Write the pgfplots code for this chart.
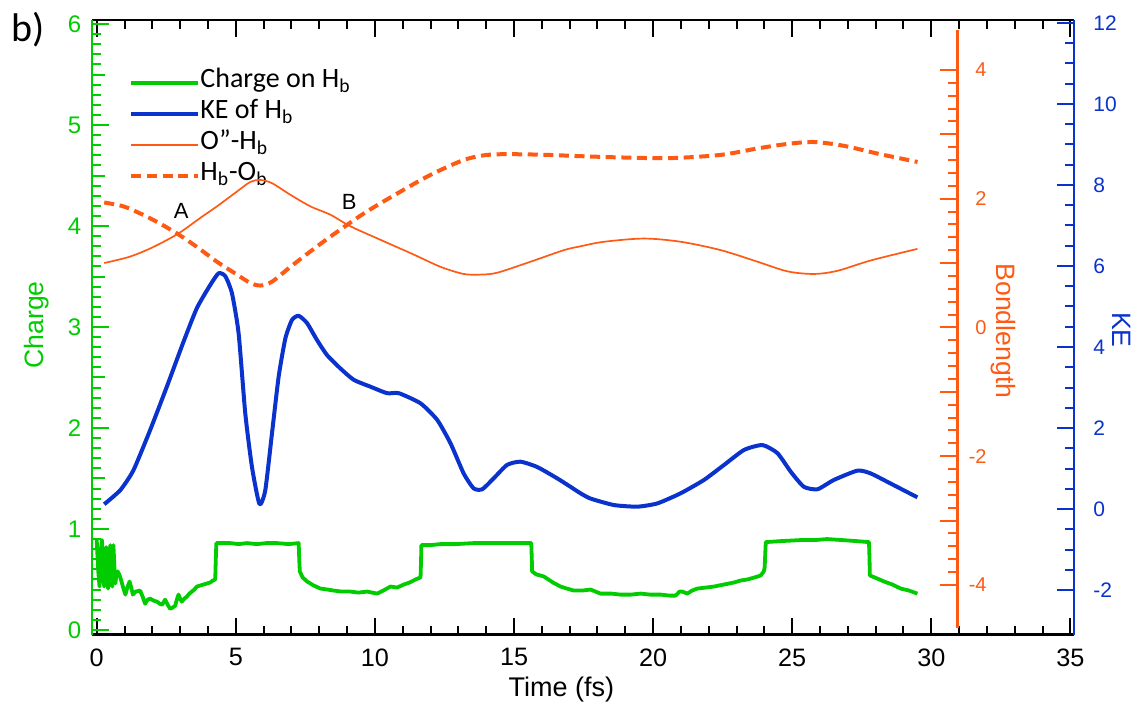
\documentclass[border=0pt]{standalone}
\usepackage{fontspec}
\setmainfont{Liberation Sans}
\newfontfamily\leg{Carlito}
\usepackage{pgfplots}
\pgfplotsset{compat=1.18}
\definecolor{cgreen}{RGB}{0,204,0}
\definecolor{cblue}{RGB}{10,50,205}
\definecolor{corange}{RGB}{255,90,20}

\begin{document}
\begin{tikzpicture}
\useasboundingbox (-46pt,-37.15pt) rectangle (524.5pt,317.35pt);
% ---------------- Charge axis (left) with x axis ----------------
\begin{axis}[
  at={(0pt,0pt)}, anchor=south west,
  scale only axis, width=491pt, height=307.35pt,
  xmin=-0.17, xmax=35.13, ymin=-0.047, ymax=6.04,
  clip mode=individual,
  axis x line*=box, axis y line*=left,
  x axis line style={black, line width=1.25pt, -},
  y axis line style={cgreen, line width=1.25pt, -},
  xtick={0,5,...,35}, minor x tick num=4,
  xtick pos=both, xticklabel pos=left,
  ytick={0,1,...,6}, minor y tick num=9, ytick pos=left,
  tick align=inside,
  major tick length=8.5pt, minor tick length=4.5pt,
  x tick style={black, line width=1pt},
  y tick style={cgreen, line width=1pt},
  extra y ticks={0.5,1.5,2.5,3.5,4.5,5.5}, extra y tick labels={},
  extra y tick style={major tick length=6.5pt},
  /pgf/number format/assume math mode=true,
  xticklabel style={font=\fontsize{12.6}{14}\selectfont, anchor=north, inner sep=0pt, yshift=-6.65pt},
  yticklabel style={font=\fontsize{12}{14}\selectfont, text=cgreen, anchor=east, inner sep=0pt, xshift=-5.25pt},
  xlabel={Time (fs)},
  xlabel style={at={(rel axis cs:0.478,-0.089)}, anchor=center, font=\fontsize{13.5}{15}\selectfont},
  ylabel={Charge},
  ylabel style={at={(rel axis cs:-0.056,0.504)}, anchor=center, text=cgreen, font=\fontsize{13.3}{15}\selectfont},
  legend cell align=left,
  legend image code/.code={\draw[#1] (0pt,0pt) -- (25pt,0pt); \path (0pt,0pt) -- (33.5pt,0pt);},
  legend style={at={(rel axis cs:0.0377,0.923)}, anchor=north west, draw=none, fill=none,
    inner sep=0pt, row sep=0pt, font=\leg\fontsize{14}{16}\selectfont,
    nodes={inner sep=0pt, text height=10pt, text depth=5.5pt}},
]
\addplot[cgreen, line width=1.9pt, line join=round] table {
0.00 0.89
0.05 0.60
0.10 0.43
0.15 0.80
0.19 0.89
0.23 0.55
0.27 0.43
0.31 0.75
0.34 0.82
0.38 0.50
0.41 0.41
0.45 0.70
0.49 0.84
0.53 0.55
0.56 0.43
0.58 0.70
0.60 0.84
0.64 0.60
0.67 0.46
0.71 0.55
0.75 0.58
0.81 0.55
0.87 0.50
0.95 0.42
1.03 0.35
1.10 0.42
1.18 0.48
1.24 0.42
1.30 0.35
1.40 0.38
1.56 0.39
1.65 0.33
1.74 0.26
1.83 0.30
1.92 0.31
2.05 0.29
2.17 0.28
2.26 0.26
2.35 0.25
2.46 0.30
2.55 0.25
2.64 0.21
2.72 0.22
2.82 0.24
2.88 0.30
2.94 0.35
3.00 0.31
3.06 0.28
3.15 0.31
3.24 0.33
3.33 0.36
3.42 0.38
3.51 0.40
3.60 0.43
3.72 0.44
3.84 0.45
3.96 0.46
4.08 0.47
4.18 0.49
4.26 0.50
4.28 0.70
4.30 0.86
4.50 0.86
4.80 0.86
5.10 0.85
5.40 0.86
5.76 0.85
6.10 0.86
6.48 0.86
6.90 0.85
7.26 0.86
7.28 0.70
7.30 0.58
7.40 0.52
7.56 0.48
7.80 0.44
8.04 0.41
8.30 0.40
8.52 0.39
8.80 0.38
9.12 0.38
9.40 0.37
9.72 0.38
9.90 0.37
10.08 0.36
10.30 0.39
10.56 0.43
10.80 0.42
11.04 0.45
11.25 0.47
11.46 0.50
11.64 0.52
11.66 0.70
11.67 0.84
12.00 0.84
12.35 0.85
12.90 0.85
13.55 0.86
14.20 0.86
14.75 0.86
15.20 0.86
15.62 0.86
15.64 0.70
15.65 0.58
15.80 0.55
16.07 0.53
16.40 0.47
16.67 0.43
16.90 0.41
17.15 0.39
17.45 0.39
17.75 0.40
18.11 0.36
18.50 0.36
18.83 0.35
19.20 0.35
19.55 0.36
19.90 0.35
20.27 0.35
20.60 0.34
20.81 0.34
20.95 0.38
21.05 0.38
21.23 0.36
21.40 0.39
21.59 0.41
21.90 0.42
22.19 0.43
22.55 0.45
22.91 0.47
23.15 0.49
23.39 0.50
23.65 0.52
23.87 0.54
23.98 0.58
24.01 0.62
24.05 0.87
24.60 0.88
25.31 0.89
25.80 0.89
26.26 0.90
26.80 0.89
27.30 0.88
27.76 0.87
27.78 0.70
27.79 0.54
28.05 0.51
28.30 0.48
28.60 0.45
28.90 0.41
29.20 0.39
29.50 0.36
};
\addlegendentry{Charge on H\textsubscript{b}}
\addlegendimage{cblue, line width=2pt}
\addlegendentry{KE of H\textsubscript{b}}
\addlegendimage{corange, line width=0.85pt}
\addlegendentry{O”-H\textsubscript{b}}
\addlegendimage{corange, line width=2pt, dash pattern=on 5pt off 2.8pt}
\addlegendentry{H\textsubscript{b}-O\textsubscript{b}}
\node[font=\fontsize{11}{13}\selectfont] at (axis cs:3.04,4.15) {A};
\node[font=\fontsize{11}{13}\selectfont] at (axis cs:9.08,4.24) {B};
\node[font=\leg\fontsize{20}{22}\selectfont] at (rel axis cs:-0.0650,0.985) {b)};
\end{axis}
% ---------------- KE axis (right) ----------------
\begin{axis}[
  at={(0pt,0pt)}, anchor=south west,
  scale only axis, width=491pt, height=307.35pt,
  xmin=-0.17, xmax=35.13, ymin=-3.10, ymax=12.07,
  axis x line=none, axis y line*=right,
  y axis line style={cblue, line width=1.25pt, -},
  ytick={-2,0,...,12}, minor y tick num=3,
  ytick pos=right, yticklabel pos=right,
  tick align=inside, major tick length=8.5pt, minor tick length=4.5pt,
  y tick style={cblue, line width=1pt},
  /pgf/number format/assume math mode=true,
  yticklabel style={text=cblue, font=\fontsize{10.5}{12}\selectfont, anchor=west, inner sep=0pt, xshift=9.5pt},
  ylabel={KE},
  ylabel style={at={(rel axis cs:1.0489,0.4957)}, anchor=center, rotate=180, text=cblue, font=\fontsize{13.3}{15}\selectfont},
]
\addplot[cblue, line width=2pt, line join=round, smooth, tension=0.35] table {
0.27 0.12
0.85 0.47
1.32 0.96
1.92 1.95
2.52 3.02
3.12 4.13
3.60 4.96
4.08 5.53
4.38 5.82
4.62 5.75
4.86 5.33
5.10 4.34
5.34 2.36
5.58 1.04
5.85 0.12
6.06 0.47
6.30 1.87
6.54 3.27
6.78 4.21
7.02 4.67
7.26 4.77
7.56 4.59
7.92 4.17
8.28 3.80
8.76 3.47
9.24 3.19
9.84 3.02
10.44 2.86
10.86 2.86
11.64 2.61
12.24 2.20
12.72 1.62
13.19 0.88
13.55 0.51
13.86 0.49
14.27 0.76
14.75 1.09
15.23 1.17
15.83 1.04
16.55 0.76
17.03 0.55
17.39 0.39
17.75 0.26
18.59 0.10
19.43 0.06
20.15 0.14
20.99 0.39
21.83 0.72
22.55 1.09
23.27 1.46
23.93 1.58
24.47 1.38
24.95 0.92
25.42 0.55
25.91 0.49
26.50 0.72
27.35 0.95
27.82 0.88
28.54 0.63
29.50 0.29
};
\end{axis}
% ---------------- Bondlength data (hidden axis, same x scale) ----------------
\begin{axis}[
  at={(0pt,3.35pt)}, anchor=south west,
  scale only axis, width=432.65pt, height=299pt,
  xmin=-0.17, xmax=30.93, ymin=-4.67, ymax=4.62,
  clip mode=individual,
  axis lines=none, xtick=\empty, ytick=\empty,
]
\addplot[corange, line width=0.85pt, line join=round, smooth] table {
0.27 1.00
1.20 1.10
2.04 1.25
2.94 1.46
3.72 1.70
4.32 1.88
5.04 2.11
5.52 2.26
5.88 2.29
6.30 2.24
6.96 2.06
7.68 1.88
8.40 1.75
9.12 1.57
10.20 1.36
11.40 1.13
12.36 0.94
13.19 0.83
13.80 0.82
14.40 0.85
15.59 1.02
16.79 1.20
17.39 1.26
18.23 1.33
19.67 1.38
20.99 1.33
22.43 1.20
23.75 1.02
24.83 0.87
25.78 0.83
26.63 0.88
27.82 1.04
29.50 1.22
};
\addplot[corange, line width=2pt, dash pattern=on 5pt off 2.8pt, smooth] table {
0.27 1.94
0.96 1.88
1.56 1.77
2.16 1.64
2.88 1.46
3.60 1.25
4.32 1.02
5.04 0.82
5.52 0.69
5.88 0.65
6.30 0.71
6.96 0.94
7.68 1.18
8.40 1.41
9.60 1.77
10.80 2.08
12.00 2.37
13.19 2.60
14.04 2.68
15.00 2.69
16.19 2.68
17.39 2.66
18.83 2.64
20.63 2.63
22.43 2.68
23.75 2.78
24.83 2.85
25.78 2.88
26.86 2.82
28.06 2.70
29.50 2.57
};
\end{axis}
% ---------------- Bondlength scale: y axis line at x = 31 ----------------
\begin{axis}[
  at={(432.65pt,3.35pt)}, anchor=south west,
  scale only axis, width=58.35pt, height=299pt,
  xmin=0, xmax=1, ymin=-4.67, ymax=4.62,
  axis x line=none, axis y line*=left,
  y axis line style={corange, line width=1.25pt, -},
  ytick={-4,-3,...,4}, yticklabels={-4,,-2,,0,,2,,4}, minor y tick num=4,
  ytick pos=left, yticklabel pos=left,
  tick align=outside, major tick length=8.5pt, minor tick length=4.5pt,
  y tick style={corange, line width=1pt},
  yticklabel style={text=corange, font=\fontsize{10}{12}\selectfont, anchor=east, inner sep=0pt, xshift=23.35pt},
  ylabel={Bondlength},
  ylabel style={at={(rel axis cs:0.3916,0.4967)}, anchor=center, rotate=180, text=corange, font=\fontsize{13.3}{15}\selectfont},
]
\end{axis}
\end{tikzpicture}
\end{document}
